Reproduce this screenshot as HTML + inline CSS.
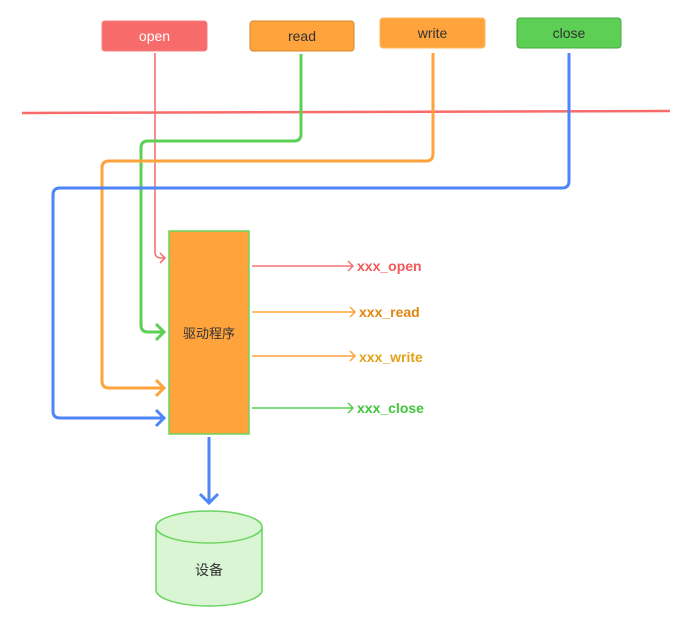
<!DOCTYPE html>
<html><head><meta charset="utf-8"><style>
html,body{margin:0;padding:0;background:#fff;}
svg{display:block;}
text{font-family:"Liberation Sans","Noto Sans CJK SC",sans-serif;}
</style></head><body>
<svg width="692" height="626" viewBox="0 0 692 626" xmlns="http://www.w3.org/2000/svg">
<rect width="692" height="626" fill="#fff"/>
<!-- top boxes -->
<rect x="102" y="21" width="105" height="30" rx="3" fill="#f76b6b" stroke="#f38080"/>
<text x="154.5" y="41" font-size="14" fill="#fff" text-anchor="middle">open</text>
<rect x="250" y="21" width="104" height="30" rx="3" fill="#ffa33d" stroke="#d98a2a"/>
<text x="302" y="41" font-size="14" fill="#333" text-anchor="middle">read</text>
<rect x="380" y="18" width="105" height="30" rx="3" fill="#ffa33d" stroke="#ffb860"/>
<text x="432.5" y="38" font-size="14" fill="#333" text-anchor="middle">write</text>
<rect x="517" y="18" width="104" height="30" rx="3" fill="#5ccf54" stroke="#4aa844"/>
<text x="569" y="38" font-size="14" fill="#333" text-anchor="middle">close</text>
<!-- boundary -->
<line x1="22" y1="113" x2="670" y2="111" stroke="#f76b6b" stroke-width="2.5"/>
<!-- open -->
<path d="M155 53 V252 Q155 258 161 258 H165" fill="none" stroke="#f47373" stroke-width="1.6"/>
<path d="M160 253 L165 258 L160 263" fill="none" stroke="#f47373" stroke-width="1.6"/>
<!-- read -->
<path d="M301 54 V134 Q301 141 294 141 H148 Q141 141 141 148 V325 Q141 332 148 332 H164" fill="none" stroke="#5ccf54" stroke-width="3"/>
<path d="M156 324 L164 332 L156 340" fill="none" stroke="#5ccf54" stroke-width="3"/>
<!-- write -->
<path d="M433 53 V154 Q433 161 426 161 H109 Q102 161 102 168 V381 Q102 388 109 388 H164" fill="none" stroke="#ffa33d" stroke-width="3"/>
<path d="M156 380 L164 388 L156 396" fill="none" stroke="#ffa33d" stroke-width="3"/>
<!-- close -->
<path d="M569 53 V181 Q569 188 562 188 H60 Q53 188 53 195 V411 Q53 418 60 418 H164" fill="none" stroke="#4f86f7" stroke-width="3"/>
<path d="M156 410 L164 418 L156 426" fill="none" stroke="#4f86f7" stroke-width="3"/>
<!-- driver -->
<rect x="169" y="231" width="80" height="203" fill="#ffa33d" stroke="#6bd45f" stroke-width="1.5"/>
<text x="209" y="338" font-size="13" fill="#333" text-anchor="middle">驱动程序</text>
<!-- outgoing -->
<g stroke-width="1.5" fill="none">
<path d="M252 266 H353 M348 261 L353 266 L348 271" stroke="#f47373"/>
<path d="M252 312 H355 M350 307 L355 312 L350 317" stroke="#ffa33d"/>
<path d="M252 356 H355 M350 351 L355 356 L350 361" stroke="#ffa33d"/>
<path d="M252 408 H353 M348 403 L353 408 L348 413" stroke="#5ccf54"/>
</g>
<g font-size="14" font-weight="bold">
<text x="357" y="271" fill="#f25a5a">xxx_open</text>
<text x="359" y="317" fill="#e0850f">xxx_read</text>
<text x="359" y="362" fill="#e3a21a">xxx_write</text>
<text x="357" y="413" fill="#3fc63a">xxx_close</text>
</g>
<!-- down arrow -->
<path d="M209 437 V502 M200 494 L209 503 L218 494" fill="none" stroke="#4f86f7" stroke-width="3"/>
<!-- cylinder -->
<path d="M156 527 V590 A53 16 0 0 0 262 590 V527" fill="#d9f5d3" stroke="#6bd45f" stroke-width="1.5"/>
<ellipse cx="209" cy="527" rx="53" ry="16" fill="#d9f5d3" stroke="#6bd45f" stroke-width="1.5"/>
<text x="209" y="575" font-size="14" fill="#333" text-anchor="middle">设备</text>
</svg>
</body></html>
